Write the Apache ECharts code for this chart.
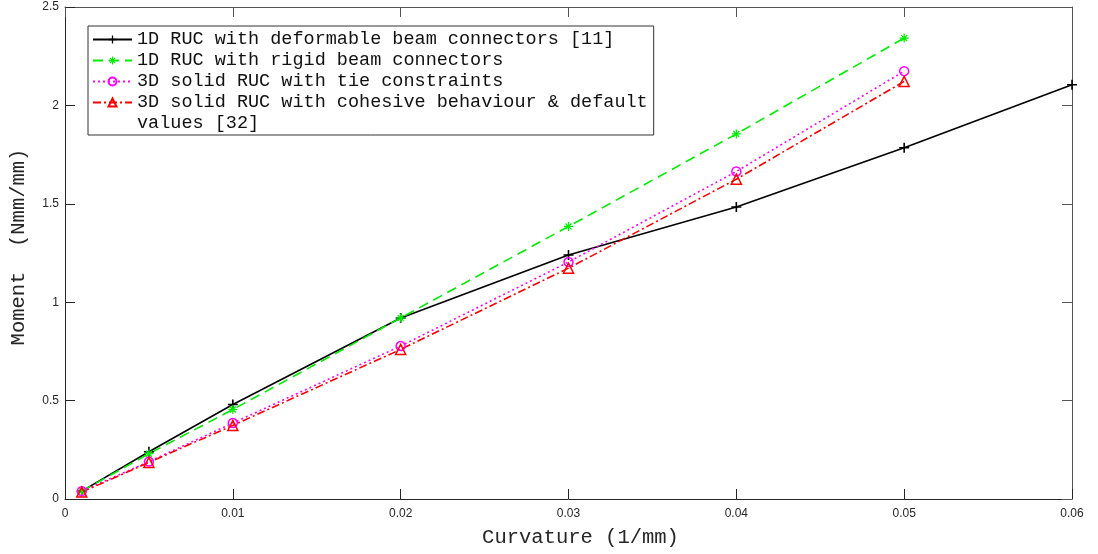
<!DOCTYPE html>
<html>
<head>
<meta charset="utf-8">
<script src="https://cdn.jsdelivr.net/npm/echarts@6/dist/echarts.min.js"></script>
<style>
  html, body { margin: 0; padding: 0; background: #fff; }
  #chart { width: 1098px; height: 554px; }
</style>
</head>
<body>
<div id="chart"></div>
<script>
// curvature (1/mm) for each measured point
const curvature = [0.001, 0.005, 0.01, 0.02, 0.03, 0.04, 0.05, 0.06];

// moment (Nmm/mm) per model
const deformableBeam = [0.04, 0.24, 0.48, 0.92, 1.24, 1.484, 1.785, 2.105];
const rigidBeam = [0.04, 0.23, 0.455, 0.92, 1.385, 1.855, 2.342];
const solidTie = [0.04, 0.19, 0.386, 0.777, 1.204, 1.664, 2.174];
const solidCohesive = [0.035, 0.186, 0.374, 0.76, 1.173, 1.625, 2.122];

const seriesNames = [
  "1D RUC with deformable beam connectors [11]",
  "1D RUC with rigid beam connectors",
  "3D solid RUC with tie constraints",
  "3D solid RUC with cohesive behaviour & default",
];
// second line of the last legend entry (no icon of its own)
const legendContinuation = "values [32]";

const xTicks = { min: 0, max: 0.06, interval: 0.01 };
const yTicks = { min: 0, max: 2.5, interval: 0.5 };

const PLUS = "path://M0,4.2H10V5.8H0Z M4.2,0H5.8V10H4.2Z";
const STAR =
  "path://M0,4.3H10V5.7H0Z M4.3,0H5.7V10H4.3Z " +
  "M1.2,2.2L2.2,1.2L8.8,7.8L7.8,8.8Z M7.8,1.2L8.8,2.2L2.2,8.8L1.2,7.8Z";

const AXIS_COLOR = "#262626";
const MONO = "'Liberation Mono', 'DejaVu Sans Mono', monospace";
const SANS = "'Liberation Sans', Arial, sans-serif";

function pairs(values) {
  return values.map((v, i) => [curvature[i], v]);
}

function lineSeries(name, values, color, dash, symbol, size, hollow) {
  return {
    name: name,
    type: "line",
    xAxisIndex: 0,
    yAxisIndex: 0,
    data: pairs(values),
    symbol: symbol,
    symbolSize: size,
    showSymbol: true,
    lineStyle: { color: color, width: 1.6, type: dash },
    itemStyle: hollow
      ? { color: "rgba(0,0,0,0)", borderColor: color, borderWidth: 1.5 }
      : { color: color, borderWidth: 0 },
    emphasis: { disabled: true },
  };
}

const mirrorTick = { show: true, inside: true, length: 10, lineStyle: { color: "#555" } };

const option = {
  animation: false,
  backgroundColor: "#fff",
  grid: { left: 64, right: 26, top: 7, bottom: 55 },
  legend: {
    orient: "vertical",
    left: 88,
    top: 26,
    padding: [3, 6, 1, 4],
    itemGap: 0,
    itemWidth: 39,
    itemHeight: 10,
    backgroundColor: "#fff",
    borderColor: "#333",
    borderWidth: 1,
    borderRadius: 0,
    selectedMode: false,
    textStyle: {
      fontFamily: MONO,
      fontSize: 18.5,
      color: "#111",
      lineHeight: 21,
    },
    data: [
      { name: seriesNames[0] },
      { name: seriesNames[1] },
      { name: seriesNames[2] },
      { name: seriesNames[3] },
      {
        name: legendContinuation,
        icon: "rect",
        itemStyle: { opacity: 0 },
        lineStyle: { opacity: 0 },
      },
    ],
  },
  xAxis: [
    {
      type: "value",
      position: "bottom",
      min: xTicks.min,
      max: xTicks.max,
      interval: xTicks.interval,
      name: "Curvature (1/mm)",
      nameLocation: "middle",
      nameGap: 28,
      nameTextStyle: {
        fontFamily: MONO,
        fontSize: 20.5,
        color: AXIS_COLOR,
        padding: [0, 0, 0, 24],
      },
      axisLine: { show: true, lineStyle: { color: AXIS_COLOR, width: 1 } },
      axisTick: { show: true, inside: true, length: 10, lineStyle: { color: AXIS_COLOR } },
      axisLabel: { margin: 9, fontFamily: SANS, fontSize: 12, color: AXIS_COLOR },
      splitLine: { show: false },
    },
    {
      type: "value",
      position: "top",
      min: xTicks.min,
      max: xTicks.max,
      interval: xTicks.interval,
      axisLine: { show: true, onZero: false, lineStyle: { color: "#555", width: 1 } },
      axisTick: mirrorTick,
      axisLabel: { show: false },
      splitLine: { show: false },
    },
  ],
  yAxis: [
    {
      type: "value",
      position: "left",
      min: yTicks.min,
      max: yTicks.max,
      interval: yTicks.interval,
      name: "Moment  (Nmm/mm)",
      nameLocation: "middle",
      nameGap: 36,
      nameTextStyle: {
        fontFamily: MONO,
        fontSize: 20.5,
        color: AXIS_COLOR,
        padding: [0, 0, 0, 12],
      },
      axisLine: { show: true, lineStyle: { color: AXIS_COLOR, width: 1 } },
      axisTick: { show: true, inside: true, length: 10, lineStyle: { color: AXIS_COLOR } },
      axisLabel: { margin: 6, fontFamily: SANS, fontSize: 12, color: AXIS_COLOR },
      splitLine: { show: false },
    },
    {
      type: "value",
      position: "right",
      min: yTicks.min,
      max: yTicks.max,
      interval: yTicks.interval,
      axisLine: { show: true, onZero: false, lineStyle: { color: "#555", width: 1 } },
      axisTick: mirrorTick,
      axisLabel: { show: false },
      splitLine: { show: false },
    },
  ],
  series: [
    lineSeries(seriesNames[0], deformableBeam, "#000000", "solid", PLUS, 10, false),
    lineSeries(seriesNames[1], rigidBeam, "#00ee00", [10, 6], STAR, 9, false),
    lineSeries(seriesNames[2], solidTie, "#ff00ff", [2, 3], "circle", 9, true),
    lineSeries(seriesNames[3], solidCohesive, "#ff0000", [8, 3, 2, 3], "triangle", 10, true),
    // empty series that only carries the wrapped tail of the last legend label
    { name: legendContinuation, type: "line", data: [], silent: true },
  ],
};

const chart = echarts.init(document.getElementById("chart"), null, { renderer: "canvas" });
chart.setOption(option);
window.addEventListener("resize", () => chart.resize());
</script>
</body>
</html>
